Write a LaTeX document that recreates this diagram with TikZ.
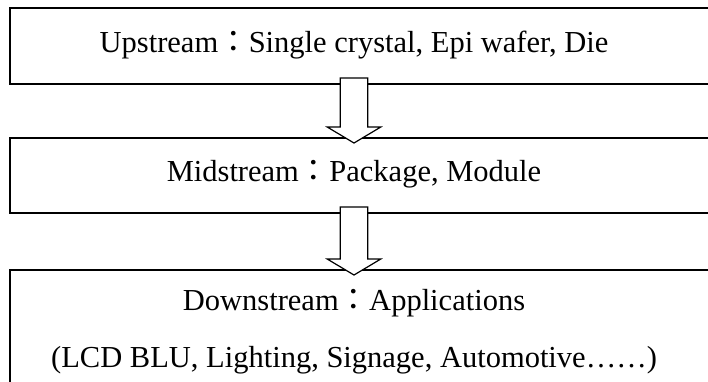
\documentclass[tikz,border=0pt]{standalone}
\usepackage{fontspec}
\setmainfont{Liberation Serif}
\newfontfamily\cjkfont{Noto Sans CJK TC}
\usetikzlibrary{calc}
% full-width colon set in the CJK face
\newcommand{\fwcolon}{{\cjkfont ：}}
% hollow block arrow from the bottom of one stage into the next
\newcommand{\stagearrow}[2]{%
  \draw[blockarrow] let \p1=(#1), \p2=(#2) in
    (\x1-13.8pt,\y1+7pt) -- (\x1+13.8pt,\y1+7pt) -- (\x1+13.8pt,\y2+10pt)
    -- (\x1+26.8pt,\y2+10pt) -- (\x1,\y2-6pt) -- (\x1-26.8pt,\y2+10pt)
    -- (\x1-13.8pt,\y2+10pt) -- cycle;}
\begin{document}
\begin{tikzpicture}[x=1pt,y=-1pt,
  stagebox/.style={draw=black, line width=2pt, fill=white, rectangle,
    inner sep=0pt, anchor=north west},
  stagetext/.style={inner sep=0pt, font=\fontsize{30.5}{36}\selectfont},
  blockarrow/.style={draw=black, line width=1.2pt, fill=white, line join=miter}]
  \useasboundingbox (0,0) rectangle (708,381);
  % the three stages of the chain
  \node[stagebox, minimum width=720pt, minimum height=76pt] (up) at (9,7) {};
  \node[stagebox, minimum width=720pt, minimum height=75pt] (mid) at (9,137) {};
  \node[stagebox, minimum width=720pt, minimum height=140pt] (down) at (9,269) {};
  % stage labels
  \node[stagetext] (uptext) at (354,45) {Upstream\fwcolon Single crystal, Epi wafer, Die};
  \node[stagetext] (midtext) at (354,174.5) {Midstream\fwcolon Package, Module};
  \node[stagetext] (downtext) at (354,303) {Downstream\fwcolon Applications};
  \node[stagetext] (apptext) at (354,360) {(LCD BLU, Lighting, Signage, Automotive……)};
  % flow between stages
  \stagearrow{uptext |- up.south}{uptext |- mid.north}
  \stagearrow{uptext |- mid.south}{uptext |- down.north}
\end{tikzpicture}
\end{document}
